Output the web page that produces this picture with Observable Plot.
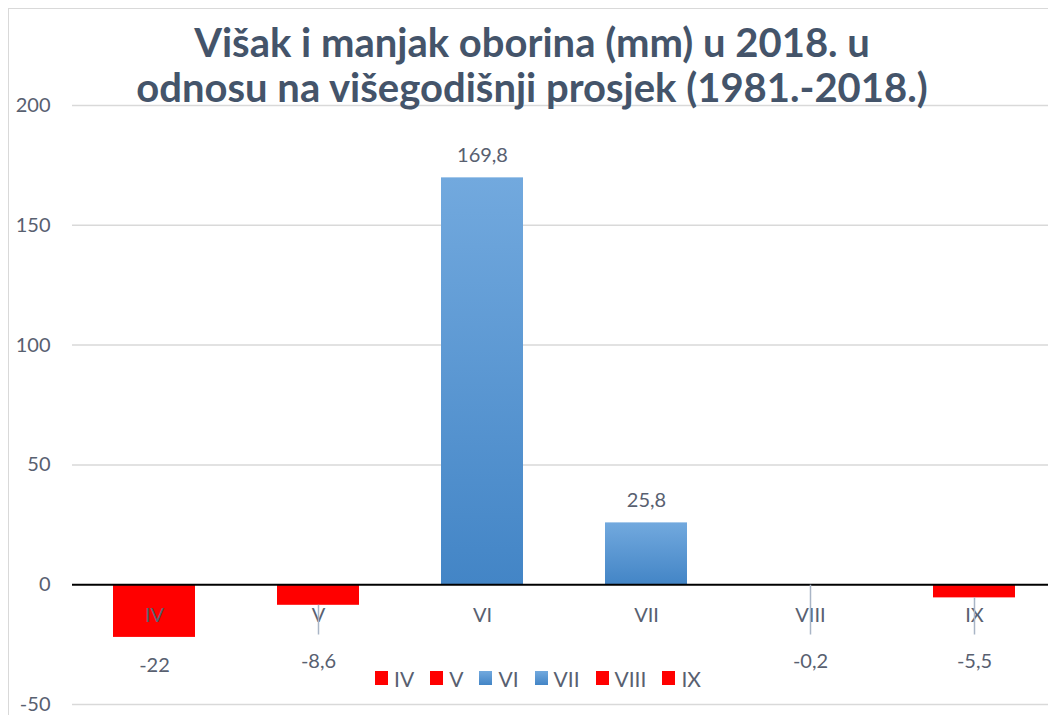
<!DOCTYPE html>
<html>
<head>
<meta charset="utf-8">
<script src="https://cdn.jsdelivr.net/npm/d3@7"></script>
<script src="https://cdn.jsdelivr.net/npm/@observablehq/plot@0.6"></script>
<style>
  html, body { margin: 0; padding: 0; background: #fff; overflow: hidden; }
  #wrap { position: relative; width: 1048px; height: 715px; overflow: hidden; font-family: Lato, sans-serif; }
  #frame { position: absolute; left: 8px; top: 8px; width: 1200px; height: 900px; border-left: 1.5px solid #D9D9D9; border-top: 1.5px solid #D9D9D9; }
  #title { position: absolute; left: 0; top: 20px; width: 1064px; text-align: center; font-weight: bold; font-size: 40px; line-height: 45px; color: #44546A; z-index: 2; white-space: nowrap; }
  #legend { position: absolute; left: 0; top: 665px; width: 1076px; height: 26px; display: flex; justify-content: center; align-items: center; font-size: 21px; color: #586070; z-index: 2; }
  .item { display: flex; align-items: center; margin: 0 8px; }
  .sw { width: 13px; height: 14px; margin-right: 6px; }
  #chart { position: absolute; left: 0; top: 0; }
</style>
</head>
<body>
<div id="wrap">
  <div id="frame"></div>
  <div id="chart"></div>
  <div id="title">Višak i manjak oborina (mm) u 2018. u<br>odnosu na višegodišnji prosjek (1981.-2018.)</div>
  <div id="legend"></div>
</div>
<script>
const months = ["IV", "V", "VI", "VII", "VIII", "IX"];
const values = [-22, -8.6, 169.8, 25.8, -0.2, -5.5];
const yTicks = [-50, 0, 50, 100, 150, 200];

const data = months.map((m, i) => ({month: m, value: values[i]}));
const fmt = v => String(v).replace(".", ",");
const red = "#FF0000";
const blue = "url(#blueGrad)";

const movedLabelY = -32;   // level of labels moved away from short negative bars
const leaderEnd = -21;

const pos = data.filter(d => d.value > 0);
const negBig = data.filter(d => d.value <= -15);
const negMoved = data.filter(d => d.value < 0 && d.value > -15);

const txt = "#586070";

const chart = Plot.plot({
  width: 1048,
  height: 715,
  marginTop: 105,
  marginBottom: 11,
  marginLeft: 72,
  marginRight: 0,
  x: {domain: months, range: [70, 1057], paddingInner: 0.5, paddingOuter: 0.25, axis: null},
  y: {domain: [-50, 200], axis: null, label: null},
  style: {fontFamily: "Lato, sans-serif", fontSize: "20px", color: txt, background: "transparent"},
  marks: [
    Plot.ruleY(yTicks.filter(d => d !== 0), {stroke: "#D9D9D9", strokeWidth: 1.5}),
    Plot.axisY({ticks: yTicks, tickSize: 0, tickPadding: 22, tickFormat: d => String(d), fontSize: 20, fill: txt, label: null}),
    Plot.barY(data.filter(d => d.value < 0), {x: "month", y: "value", fill: red}),
    Plot.barY(pos, {x: "month", y: "value", fill: blue}),
    Plot.ruleY([0], {stroke: "#000", strokeWidth: 2}),
    Plot.text(data, {x: "month", y: 0, text: "month", dy: 31, fill: txt, fontSize: 20}),
    Plot.ruleX(negMoved, {x: "month", y1: "value", y2: leaderEnd, stroke: "#A9B5C6", strokeWidth: 1.5}),
    Plot.text(pos, {x: "month", y: "value", text: d => fmt(d.value), dy: -22, fill: txt, fontSize: 20}),
    Plot.text(negBig, {x: "month", y: "value", text: d => fmt(d.value), dy: 28, fill: txt, fontSize: 20}),
    Plot.text(negMoved, {x: "month", y: () => movedLabelY, text: d => fmt(d.value), fill: txt, fontSize: 20})
  ]
});

const defs = d3.select(chart).insert("defs", ":first-child");
const g = defs.append("linearGradient").attr("id", "blueGrad").attr("x1", 0).attr("y1", 0).attr("x2", 0).attr("y2", 1);
g.append("stop").attr("offset", "0%").attr("stop-color", "#72A9DE");
g.append("stop").attr("offset", "100%").attr("stop-color", "#4385C6");

document.getElementById("chart").appendChild(chart);

// legend
const legend = document.getElementById("legend");
data.forEach(d => {
  const it = document.createElement("div");
  it.className = "item";
  const sw = document.createElement("div");
  sw.className = "sw";
  sw.style.background = d.value < 0 ? red : "linear-gradient(#72A9DE, #4385C6)";
  const t = document.createElement("span");
  t.textContent = d.month;
  it.appendChild(sw);
  it.appendChild(t);
  legend.appendChild(it);
});
</script>
</body>
</html>
